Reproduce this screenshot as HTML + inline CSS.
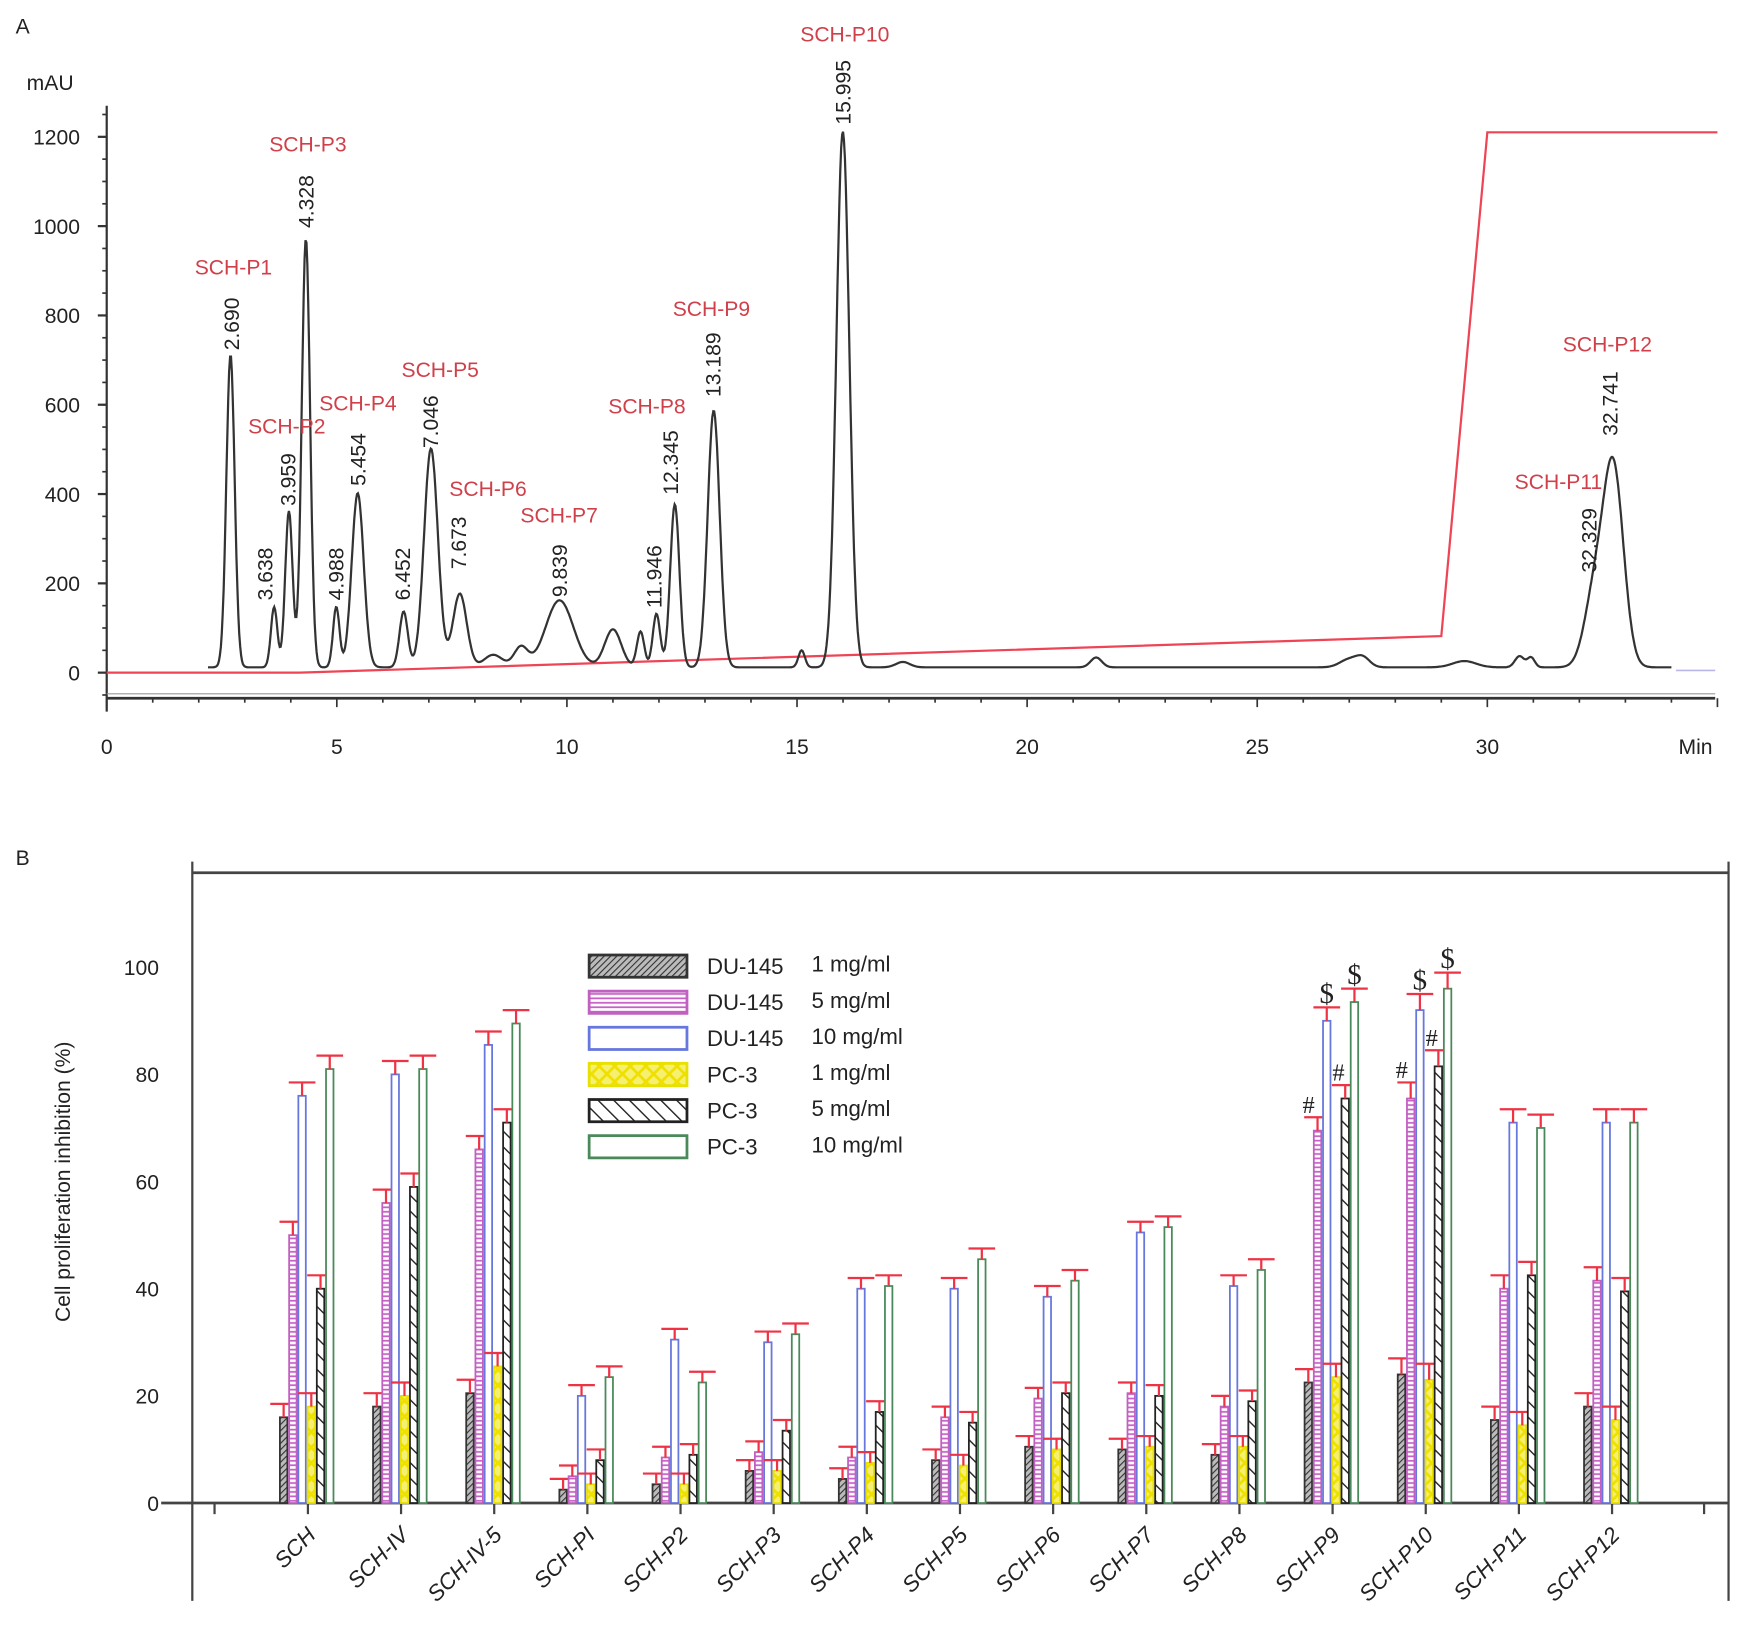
<!DOCTYPE html>
<html><head><meta charset="utf-8"><style>
html,body{margin:0;padding:0;background:#fff}
svg{display:block;font-family:"Liberation Sans",Arial,sans-serif}
</style></head><body>
<svg id="fig" width="1743" height="1631" viewBox="0 0 1568 1467" xmlns="http://www.w3.org/2000/svg">
<defs>
<pattern id="pDU1" patternUnits="userSpaceOnUse" width="4" height="4" patternTransform="rotate(45)"><rect width="4" height="4" fill="#bbb"/><line x1="0" y1="0" x2="0" y2="4" stroke="#333" stroke-width="2"/></pattern>
<pattern id="pDU5" patternUnits="userSpaceOnUse" width="4" height="4"><rect width="4" height="4" fill="#fff"/><line x1="0" y1="2" x2="4" y2="2" stroke="#c860c8" stroke-width="1.6"/></pattern>
<pattern id="pPC1" patternUnits="userSpaceOnUse" width="14" height="14"><rect width="14" height="14" fill="#f6f070"/><path d="M0 0L14 14M14 0L0 14" stroke="#f0e000" stroke-width="2.5"/></pattern>
<pattern id="pPC5" patternUnits="userSpaceOnUse" width="10" height="10" patternTransform="rotate(-45)"><rect width="10" height="10" fill="#fff"/><line x1="0" y1="0" x2="0" y2="10" stroke="#222" stroke-width="2.5"/></pattern>
</defs>
<g id="panelA"></g>
<g id="panelB"></g>
</svg>
<script>
// ---------- Panel A data ----------
const peakTimes =   [2.69,3.638,3.959,4.328,4.988,5.454,6.452,7.046,7.673,8.4,9.0,9.839,11.0,11.6,11.946,12.345,13.189,15.1,15.995,17.3,21.5,27.0,27.3,29.5,30.7,30.95,32.329,32.741];
const peakHeights = [700,135,350,960,135,390,125,490,165,28,45,150,85,80,120,365,575,38,1200,12,22,18,20,14,25,22,160,440];
const peakWidths =  [0.09,0.07,0.08,0.09,0.07,0.13,0.09,0.15,0.15,0.2,0.15,0.3,0.18,0.08,0.08,0.1,0.13,0.07,0.14,0.15,0.12,0.2,0.15,0.25,0.1,0.08,0.22,0.22];
const baselineLevel = 12;
const gradientTimes = [0,4.2,29,30,35];
const gradientValues = [0,0,82,1210,1210];
const xTicksA = [0,5,10,15,20,25,30];
const yTicksA = [0,200,400,600,800,1000,1200];
const peakNames = ["SCH-P1","SCH-P2","SCH-P3","SCH-P4","SCH-P5","SCH-P6","SCH-P7","SCH-P8","SCH-P9","SCH-P10","SCH-P11","SCH-P12"];
const peakNamePos = [[210,240],[258,383],[277,129],[322,362],[396,332],[439,439],[503,463],[582,365],[640,277],[760,30],[1402,433],[1446,309]];
const rtLabels = ["2.690","3.638","3.959","4.328","4.988","5.454","6.452","7.046","7.673","9.839","11.946","12.345","13.189","15.995","32.329","32.741"];
const rtLabelBottom = [[208,315],[238,540],[259,455],[275,205],[302,540],[322,437],[362,540],[387,403],[412,512],[503,537],[588,547],[603,445],[641,357],[758,112],[1429,515],[1448,392]];

// ---------- Panel B data ----------
const categories = ["SCH","SCH-IV","SCH-IV-5","SCH-PI","SCH-P2","SCH-P3","SCH-P4","SCH-P5","SCH-P6","SCH-P7","SCH-P8","SCH-P9","SCH-P10","SCH-P11","SCH-P12"];
const du145_1 = [16,18,20.5,2.5,3.5,6,4.5,8,10.5,10,9,22.5,24,15.5,18];
const du145_5 = [50,56,66,5,8.5,9.5,8.5,16,19.5,20.5,18,69.5,75.5,40,41.5];
const du145_10 = [76,80,85.5,20,30.5,30,40,40,38.5,50.5,40.5,90,92,71,71];
const pc3_1 = [18,20,25.5,3.5,3.5,6,7.5,7,10,10.5,10.5,23.5,23,14.5,15.5];
const pc3_5 = [40,59,71,8,9,13.5,17,15,20.5,20,19,75.5,81.5,42.5,39.5];
const pc3_10 = [81,81,89.5,23.5,22.5,31.5,40.5,45.5,41.5,51.5,43.5,93.5,96,70,71];
const errors = [2.5,2.5,2.5,2,2,2,2,2,2,2,2,2.5,3,2.5,2.5];
const yTicksB = [0,20,40,60,80,100];

const NS="http://www.w3.org/2000/svg";
function mk(parent,tag,attrs,text){const e=document.createElementNS(NS,tag);for(const k in attrs)e.setAttribute(k,attrs[k]);if(text!==undefined)e.textContent=text;parent.appendChild(e);return e;}

// ---------- Panel A ----------
const A=document.getElementById('panelA');
const xA=t=>96+t*41.4;
const yA=v=>605-v*0.4017;
let t1=mk(A,'text',{x:14,y:30,'font-size':19,fill:'#222'},'A');

let mau=mk(A,'text',{x:24,y:81,'font-size':19,fill:'#222'},'mAU');

let yax=mk(A,'line',{x1:96,y1:95,x2:96,y2:640,stroke:'#333','stroke-width':2});

for(let v=-50;v<=1250;v+=50){if(yA(v)<95)continue;mk(A,'line',{x1:92,y1:yA(v),x2:96,y2:yA(v),stroke:'#333','stroke-width':1.5});}
yTicksA.forEach(v=>{mk(A,'line',{x1:88,y1:yA(v),x2:96,y2:yA(v),stroke:'#333','stroke-width':2});
 let l=mk(A,'text',{x:72,y:yA(v)+7,'font-size':19,'text-anchor':'end',fill:'#222'},String(v));
 });
let xax=mk(A,'line',{x1:96,y1:628,x2:1543,y2:628,stroke:'#333','stroke-width':2.5});

mk(A,'line',{x1:96,y1:624,x2:1543,y2:624,stroke:'#999','stroke-width':1});
for(let t=0;t<=35;t++){mk(A,'line',{x1:xA(t),y1:628,x2:xA(t),y2:t%5==0?636:632,stroke:'#333','stroke-width':1.5});}
xTicksA.forEach(t=>{let l=mk(A,'text',{x:xA(t),y:678,'font-size':19,'text-anchor':'middle',fill:'#222'},String(t));
 });
let mn=mk(A,'text',{x:1510,y:678,'font-size':19,fill:'#222'},'Min');

let gp='';gradientTimes.forEach((t,i)=>{gp+=(i?'L':'M')+xA(t).toFixed(1)+' '+yA(gradientValues[i]).toFixed(1);});
let g=mk(A,'path',{d:gp,fill:'none',stroke:'#ee4455','stroke-width':2});

let cp='';
for(let t=2.2;t<=34.0;t+=0.02){let v=baselineLevel;
 for(let i=0;i<peakTimes.length;i++){const d=(t-peakTimes[i])/peakWidths[i];v+=peakHeights[i]*Math.exp(-0.5*d*d);}
 cp+=(cp?'L':'M')+xA(t).toFixed(1)+' '+yA(v).toFixed(1);}
let c=mk(A,'path',{d:cp,fill:'none',stroke:'#333','stroke-width':2});

mk(A,'line',{x1:xA(34.1),y1:yA(5),x2:1543,y2:yA(5),stroke:'#b8b8e8','stroke-width':1.5});
peakNames.forEach((n,i)=>{let l=mk(A,'text',{x:peakNamePos[i][0],y:peakNamePos[i][1]+7,'font-size':19,'text-anchor':'middle',fill:'#d0404a'},n);
 });
rtLabels.forEach((n,i)=>{const [x,y]=rtLabelBottom[i];
 let l=mk(A,'text',{x:0,y:0,'font-size':19,'text-anchor':'start',fill:'#222',transform:`translate(${x+7},${y}) rotate(-90)`},n);
 });

// ---------- Panel B ----------
const B=document.getElementById('panelB');
const yB=v=>1352-v*4.82;
const groupX=i=>251+i*83.8;
const barW=8.3;
let bl=mk(B,'text',{x:14,y:778,'font-size':19,fill:'#222'},'B');

mk(B,'line',{x1:173,y1:785,x2:1555,y2:785,stroke:'#444','stroke-width':2.5});
let ly=mk(B,'line',{x1:173,y1:775,x2:173,y2:1440,stroke:'#444','stroke-width':2});

mk(B,'line',{x1:1555,y1:775,x2:1555,y2:1440,stroke:'#444','stroke-width':2});
let lx=mk(B,'line',{x1:145,y1:1352,x2:1555,y2:1352,stroke:'#444','stroke-width':2.5});

yTicksB.forEach(v=>{let l=mk(B,'text',{x:143,y:yB(v)+7,'font-size':19,'text-anchor':'end',fill:'#222'},String(v));
 });
let yt=mk(B,'text',{x:0,y:0,'font-size':19,'text-anchor':'middle',fill:'#222',transform:'translate(63,1063) rotate(-90)'},'Cell proliferation inhibition (%)');

mk(B,'line',{x1:193,y1:1352,x2:193,y2:1362,stroke:'#444','stroke-width':2});
mk(B,'line',{x1:1533,y1:1352,x2:1533,y2:1362,stroke:'#444','stroke-width':2});
const series=[du145_1,du145_5,du145_10,pc3_1,pc3_5,pc3_10];
const fills=['url(#pDU1)','url(#pDU5)','#fff','url(#pPC1)','url(#pPC5)','#fff'];
const strokes=['#333','#c060c0','#6677dd','#e8e000','#222','#4a8a5a'];
categories.forEach((cat,i)=>{
 const gx=groupX(i);
 mk(B,'line',{x1:gx+26,y1:1352,x2:gx+26,y2:1362,stroke:'#444','stroke-width':2});
 series.forEach((s,k)=>{const x=gx+k*barW;const top=yB(s[i]);
  let r=mk(B,'rect',{x:x+0.8,y:top,width:barW-1.6,height:1352-top,fill:fills[k],stroke:strokes[k],'stroke-width':1.6});
  
  const et=yB(s[i]+errors[i]);const cx=x+barW/2;
  mk(B,'line',{x1:cx,y1:top,x2:cx,y2:et,stroke:'#ee3344','stroke-width':2});
  mk(B,'line',{x1:cx-12,y1:et,x2:cx+12,y2:et,stroke:'#ee3344','stroke-width':2});
 });
 let l=mk(B,'text',{x:0,y:0,'font-size':20,'font-style':'italic','text-anchor':'end',fill:'#222',transform:`translate(${gx+34},${1382}) rotate(-45)`},cat);
 
 if(cat==='SCH-P9'||cat==='SCH-P10'){
  [[1,'#',-8,'22'],[2,'$',0,'26'],[4,'#',-6,'22'],[5,'$',0,'26']].forEach(([k,sym,dx,fs])=>{
   const x=gx+k*barW+barW/2+dx;const y=yB(series[k][i]+errors[i])-4;
   let a=mk(B,'text',{x:x,y:y,'font-size':fs,'font-family':'Liberation Serif, serif','text-anchor':'middle',fill:'#222'},sym);
   });
 }
});
const legCell=["DU-145","DU-145","DU-145","PC-3","PC-3","PC-3"];
const legConc=["1 mg/ml","5 mg/ml","10 mg/ml","1 mg/ml","5 mg/ml","10 mg/ml"];
legCell.forEach((cl,k)=>{const y=859+k*32.5;
 let r=mk(B,'rect',{x:530,y:y,width:88,height:20,fill:fills[k],stroke:strokes[k],'stroke-width':2.5});
 
 let t=mk(B,'text',{x:636,y:y+17,'font-size':20,fill:'#222'},cl);
 
 let t2=mk(B,'text',{x:730,y:y+15,'font-size':20,fill:'#222'},legConc[k]);
 
});
</script>
</body></html>
